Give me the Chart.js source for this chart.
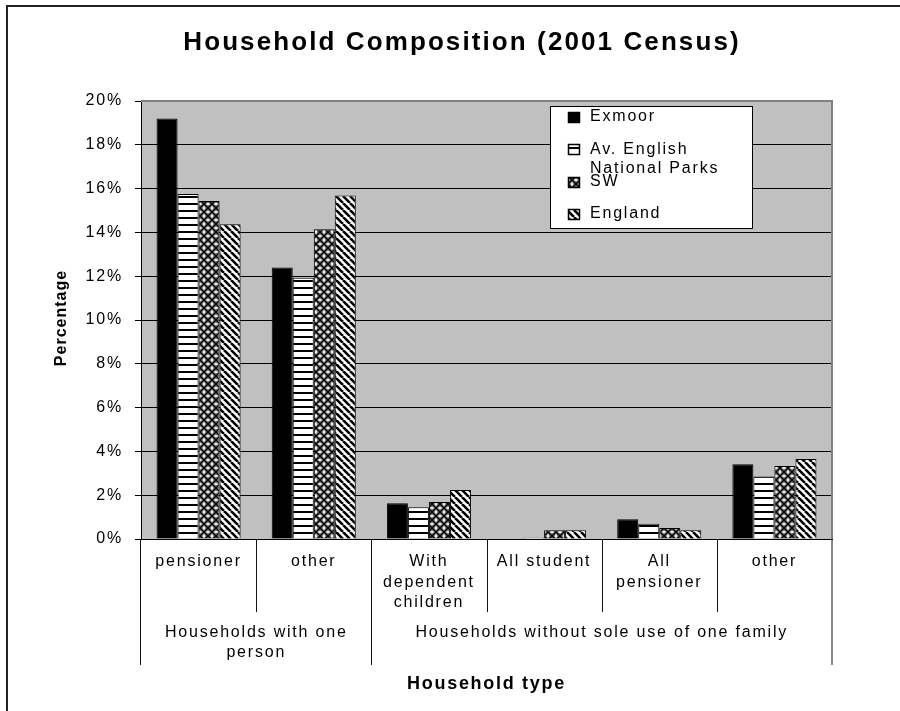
<!DOCTYPE html>
<html>
<head>
<meta charset="utf-8">
<title>Household Composition (2001 Census)</title>
<script src="https://cdn.jsdelivr.net/npm/chart.js@4.4.1/dist/chart.umd.min.js"></script>
<style>
  html, body { margin: 0; padding: 0; background: #fff; }
  #wrap { position: relative; width: 900px; height: 711px; }
</style>
</head>
<body>
<div id="wrap"><canvas id="chart"></canvas></div>
<script>
// ---------- DATA ----------
const categories = ['pensioner', 'other', ['With', 'dependent', 'children'], 'All student', ['All', 'pensioner'], 'other'];
const groupLabels = ['Households with one person', 'Households without sole use of one family'];
const groupSizes = [2, 4];

const seriesNames = ['Exmoor', 'Av. English National Parks', 'SW', 'England'];
const exmoor  = [19.2, 12.4, 1.63, 0.0, 0.9, 3.41];
const avParks = [15.75, 11.93, 1.45, 0.06, 0.7, 2.85];
const sw      = [15.43, 14.14, 1.69, 0.4, 0.5, 3.33];
const england = [14.37, 15.68, 2.24, 0.4, 0.4, 3.65];

const yMax = 20;
const yStep = 2;

const FONT = '"Liberation Sans", Arial, Helvetica, sans-serif';

// ---------- FILL PATTERNS ----------
function makePattern(kind) {
    const c = document.createElement('canvas');
    const g = c.getContext('2d');
    if (kind === 'solid') {
        return '#000';
    }
    if (kind === 'hstripe') {
        c.width = 8; c.height = 7;
        g.fillStyle = '#fff'; g.fillRect(0, 0, 8, 7);
        g.fillStyle = '#000'; g.fillRect(0, 0, 8, 2);
    } else if (kind === 'weave') {
        c.width = 8; c.height = 8;
        g.fillStyle = '#7a7a7a'; g.fillRect(0, 0, 8, 8);
        g.strokeStyle = '#000'; g.lineWidth = 1.3;
        g.beginPath();
        g.moveTo(0, 0); g.lineTo(8, 8);
        g.moveTo(8, 0); g.lineTo(0, 8);
        g.stroke();
        g.fillStyle = '#ececec';
        g.fillRect(0, 3, 1.5, 2); g.fillRect(6.5, 3, 1.5, 2);
        g.fillRect(3, 0, 2, 1.5); g.fillRect(3, 6.5, 2, 1.5);
    } else if (kind === 'diag') {
        c.width = 7; c.height = 7;
        g.fillStyle = '#fff'; g.fillRect(0, 0, 7, 7);
        g.strokeStyle = '#000'; g.lineWidth = 2.6;
        g.beginPath();
        for (let k = -1; k <= 1; k++) {
            g.moveTo(k * 7, 0); g.lineTo(k * 7 + 7, 7);
        }
        g.stroke();
    }
    return g.createPattern(c, 'repeat');
}

const fills = [makePattern('solid'), makePattern('hstripe'), makePattern('weave'), makePattern('diag')];
const seriesData = [exmoor, avParks, sw, england];

// ---------- HELPERS ----------
function wrapText(ctx, text, maxWidth) {
    const words = text.split(' ');
    const lines = [];
    let line = '';
    words.forEach(w => {
        const test = line ? line + ' ' + w : w;
        if (line && ctx.measureText(test).width > maxWidth) {
            lines.push(line);
            line = w;
        } else {
            line = test;
        }
    });
    if (line) lines.push(line);
    return lines;
}

function categoryEdges(chart) {
    const a = chart.chartArea;
    const x = chart.scales.x;
    const n = categories.length;
    const edges = [a.left];
    for (let i = 1; i < n; i++) {
        edges.push(Math.round((x.getPixelForValue(i - 1) + x.getPixelForValue(i)) / 2) + 0.5);
    }
    edges.push(a.right);
    return edges;
}

// ---------- DECORATION PLUGIN ----------
const decor = {
    id: 'decor',
    beforeDraw(chart) {
        const { ctx, chartArea: a } = chart;
        ctx.letterSpacing = '1.8px';
        ctx.save();
        // outer frame
        ctx.strokeStyle = '#222';
        ctx.lineWidth = 2;
        ctx.strokeRect(7, 6, 1000, 1000);
        // plot background
        ctx.fillStyle = '#c0c0c0';
        ctx.fillRect(a.left, a.top, a.right - a.left, a.bottom - a.top);
        ctx.restore();
    },
    afterDraw(chart) {
        const { ctx, chartArea: a } = chart;
        ctx.save();

        // plot border, top and right
        ctx.strokeStyle = '#808080';
        ctx.lineWidth = 2;
        ctx.beginPath();
        ctx.moveTo(a.left, a.top);
        ctx.lineTo(a.right, a.top);
        ctx.lineTo(a.right, a.bottom);
        ctx.stroke();

        // title
        ctx.fillStyle = '#000';
        ctx.textAlign = 'center';
        ctx.textBaseline = 'middle';
        ctx.letterSpacing = '2.1px';
        ctx.font = 'bold 26px ' + FONT;
        ctx.fillText('Household Composition (2001 Census)', 462, 43);

        // axis titles
        ctx.letterSpacing = '1.7px';
        ctx.font = 'bold 18px ' + FONT;
        ctx.fillText('Household type', (a.left + a.right) / 2, 684);
        ctx.save();
        ctx.translate(62, 318);
        ctx.rotate(-Math.PI / 2);
        ctx.letterSpacing = '1px';
        ctx.font = 'bold 16px ' + FONT;
        ctx.fillText('Percentage', 0, 0);
        ctx.restore();

        // table lines under the x axis
        const edges = categoryEdges(chart);
        const groupEdges = [0];
        groupSizes.forEach(s => groupEdges.push(groupEdges[groupEdges.length - 1] + s));
        ctx.strokeStyle = '#111';
        ctx.lineWidth = 1;
        ctx.beginPath();
        edges.forEach((ex, i) => {
            const xx = i === 0 ? ex - 0.5 : ex;
            ctx.moveTo(xx, a.bottom);
            ctx.lineTo(xx, groupEdges.includes(i) ? 665 : 612);
        });
        ctx.stroke();

        // group labels
        ctx.font = '16px ' + FONT;
        ctx.letterSpacing = '1.8px';
        groupLabels.forEach((label, gi) => {
            const x0 = edges[groupEdges[gi]];
            const x1 = edges[groupEdges[gi + 1]];
            const lines = wrapText(ctx, label, x1 - x0 - 12);
            lines.forEach((l, k) => ctx.fillText(l, (x0 + x1) / 2, 633 + k * 20));
        });

        // legend
        const box = { x: 550.5, y: 106.5, w: 202, h: 122 };
        ctx.fillStyle = '#fff';
        ctx.fillRect(box.x, box.y, box.w, box.h);
        ctx.strokeStyle = '#000';
        ctx.strokeRect(box.x, box.y, box.w, box.h);
        ctx.textAlign = 'left';
        chart.data.datasets.forEach((ds, i) => {
            const yc = 117 + i * 32.3;
            ctx.fillStyle = ds.backgroundColor;
            ctx.fillRect(568, Math.round(yc) - 5, 12, 11);
            ctx.strokeStyle = '#000';
            ctx.lineWidth = 1.5;
            ctx.strokeRect(568.5, Math.round(yc) - 4.5, 11, 10);
            ctx.fillStyle = '#000';
            const lines = wrapText(ctx, ds.label, box.x + box.w - 590 - 4);
            lines.forEach((l, k) => ctx.fillText(l, 590, yc + k * 19));
        });

        ctx.restore();
    }
};

// ---------- CHART ----------
const ctx = document.getElementById('chart');
const chart = new Chart(ctx, {
    type: 'bar',
    data: {
        labels: categories,
        datasets: seriesNames.map((name, i) => ({
            label: name,
            data: seriesData[i],
            backgroundColor: fills[i],
            borderColor: '#000',
            borderWidth: 1
        }))
    },
    options: {
        responsive: true,
        maintainAspectRatio: false,
        animation: false,
        layout: { padding: { top: 101, right: 68, left: 0, bottom: 0 } },
        datasets: { bar: { categoryPercentage: 0.73, barPercentage: 1 } },
        plugins: {
            legend: { display: false },
            title: { display: false },
            tooltip: { enabled: false }
        },
        scales: {
            x: {
                grid: { display: false, drawTicks: false },
                border: { display: true, color: '#000', width: 1 },
                ticks: {
                    color: '#000',
                    font: { family: FONT, size: 16, lineHeight: 1.3 },
                    padding: 12,
                    maxRotation: 0,
                    autoSkip: false
                },
                afterFit(s) { s.height = 172; }
            },
            y: {
                min: 0,
                max: yMax,
                ticks: {
                    stepSize: yStep,
                    color: '#000',
                    font: { family: FONT, size: 16 },
                    padding: 12,
                    callback: v => v + '%'
                },
                grid: { color: '#000', lineWidth: 1, tickLength: 6 },
                border: { color: '#000', width: 1 },
                afterFit(s) { s.width = 141; }
            }
        }
    },
    plugins: [decor]
});
</script>
</body>
</html>
